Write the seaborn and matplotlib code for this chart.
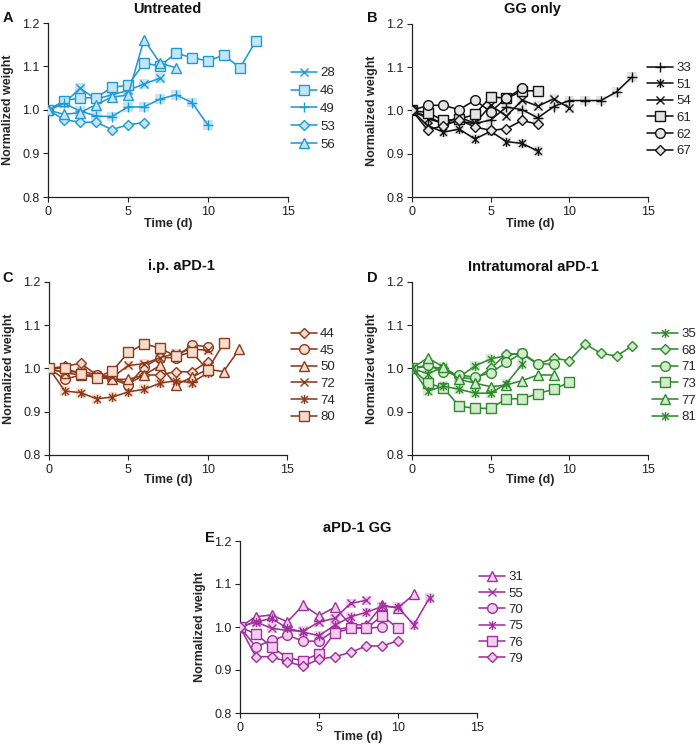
import matplotlib
matplotlib.use("Agg")
import matplotlib.pyplot as plt
import seaborn as sns
from matplotlib.path import Path

sns.set_theme(style="ticks")
plt.rcParams['font.family'] = ['Liberation Sans', 'DejaVu Sans']

# ---------------- data (normalized weight, day 0, 1, 2, ...) ----------------
# A: Untreated
a_ids = ["28", "46", "49", "53", "56"]
a_28 = [1.000, 1.015, 1.050, 1.025, 1.035, 1.045, 1.060, 1.073]
a_46 = [1.000, 1.021, 1.028, 1.028, 1.052, 1.057, 1.108, 1.101, 1.131, 1.120, 1.113, 1.126, 1.097, 1.159]
a_49 = [1.000, 1.015, 0.998, 0.986, 0.985, 1.007, 1.007, 1.025, 1.035, 1.017, 0.965]
a_53 = [1.000, 0.978, 0.972, 0.972, 0.955, 0.966, 0.971]
a_56 = [1.000, 0.990, 0.994, 1.012, 1.030, 1.034, 1.162, 1.108, 1.097]

# B: GG only
b_ids = ["33", "51", "54", "61", "62", "67"]
b_33 = [1.000, 0.985, 0.970, 0.975, 0.970, 0.978, 1.008, 1.002, 0.983, 1.009, 1.023, 1.023, 1.023, 1.043, 1.078]
b_51 = [1.000, 0.965, 0.950, 0.957, 0.934, 0.952, 0.928, 0.924, 0.906]
b_54 = [1.000, 0.981, 0.970, 0.985, 0.970, 1.012, 0.987, 1.024, 1.010, 1.027, 1.006]
b_61 = [1.000, 0.995, 0.977, 0.980, 0.991, 1.032, 1.028, 1.045, 1.046]
b_62 = [1.000, 1.012, 1.012, 1.002, 1.024, 0.997, 1.029, 1.051]
b_67 = [1.000, 0.955, 0.965, 0.978, 0.962, 0.954, 0.958, 0.977, 0.968]

# C: i.p. aPD-1
c_ids = ["44", "45", "50", "72", "74", "80"]
c_44 = [1.000, 1.005, 1.012, 0.985, 0.980, 0.965, 0.985, 0.985, 0.993, 0.992, 1.016]
c_45 = [1.000, 0.975, 0.985, 0.985, 0.975, 0.962, 1.004, 1.025, 1.025, 1.055, 1.050]
c_50 = [1.000, 0.990, 0.985, 0.980, 0.975, 0.975, 0.985, 1.007, 0.962, 0.980, 0.998, 0.993, 1.045]
c_72 = [1.000, 0.990, 0.995, 0.985, 0.980, 1.007, 1.011, 1.025, 1.035, 1.045, 1.042]
c_74 = [1.000, 0.948, 0.944, 0.930, 0.934, 0.946, 0.952, 0.966, 0.972, 0.967, 0.990]
c_80 = [1.000, 1.001, 0.987, 0.979, 0.995, 1.037, 1.057, 1.047, 1.028, 1.038, 0.997, 1.058]

# D: Intratumoral aPD-1
d_ids = ["35", "68", "71", "73", "77", "81"]
d_35 = [1.000, 0.988, 1.003, 0.980, 1.006, 1.022, 1.030, 1.036]
d_68 = [1.000, 1.005, 1.000, 0.980, 0.975, 1.000, 1.034, 1.033, 1.010, 1.024, 1.018, 1.057, 1.035, 1.029, 1.052]
d_71 = [1.000, 1.008, 0.992, 0.985, 0.980, 0.990, 1.014, 1.036, 1.011, 1.010]
d_73 = [1.000, 0.966, 0.955, 0.913, 0.908, 0.908, 0.930, 0.930, 0.942, 0.952, 0.968]
d_77 = [1.000, 1.025, 1.003, 0.975, 0.966, 0.958, 0.962, 0.972, 0.985, 0.985]
d_81 = [1.000, 0.948, 0.959, 0.952, 0.943, 0.943, 0.965, 1.010]

# E: aPD-1 GG
e_ids = ["31", "55", "70", "75", "76", "79"]
e_31 = [1.000, 1.024, 1.028, 1.012, 1.051, 1.026, 1.046, 1.005, 1.005, 1.051, 1.044, 1.076]
e_55 = [1.000, 1.012, 0.997, 0.992, 0.990, 1.012, 1.020, 1.055, 1.062]
e_70 = [1.000, 0.954, 0.969, 0.981, 0.967, 0.967, 0.993, 1.000, 0.997, 1.000]
e_75 = [1.000, 1.012, 1.020, 0.997, 0.988, 0.980, 1.004, 1.024, 1.034, 1.048, 1.046, 1.005, 1.068]
e_76 = [1.000, 0.984, 0.954, 0.928, 0.922, 0.938, 0.986, 0.997, 0.997, 1.026, 0.997]
e_79 = [1.000, 0.931, 0.931, 0.919, 0.909, 0.925, 0.931, 0.941, 0.956, 0.956, 0.968]

titles = ["Untreated", "GG only", "i.p. aPD-1", "Intratumoral aPD-1", "aPD-1 GG"]
panel_letters = ["A", "B", "C", "D", "E"]
x_ticks = [0, 5, 10, 15]
y_ticks = [0.8, 0.9, 1.0, 1.1, 1.2]
x_label = "Time (d)"
y_label = "Normalized weight"

# ---------------- style ----------------
AST = Path([(0, -1), (0, 1), (-0.75, -0.75), (0.75, 0.75), (-0.75, 0.75), (0.75, -0.75)],
           [Path.MOVETO, Path.LINETO, Path.MOVETO, Path.LINETO, Path.MOVETO, Path.LINETO])
MSIZE = {"s": 7.0, "o": 7.0, "^": 7.2, "D": 5.0, "x": 6.2, "+": 7.2, AST: 6.6}

panels = [
    dict(series=[a_28, a_46, a_49, a_53, a_56], ids=a_ids, markers=["x", "s", "+", "D", "^"],
         line="#1f9ad6", face="#c3e6f6"),
    dict(series=[b_33, b_51, b_54, b_61, b_62, b_67], ids=b_ids, markers=["+", AST, "x", "s", "o", "D"],
         line="#111111", face="#e4e4e4"),
    dict(series=[c_44, c_45, c_50, c_72, c_74, c_80], ids=c_ids, markers=["D", "o", "^", "x", AST, "s"],
         line="#8c3a1c", face="#fadccd"),
    dict(series=[d_35, d_68, d_71, d_73, d_77, d_81], ids=d_ids, markers=[AST, "D", "o", "s", "^", AST],
         line="#2f8a2f", face="#d0ecca"),
    dict(series=[e_31, e_55, e_70, e_75, e_76, e_79], ids=e_ids, markers=["^", "x", "o", AST, "s", "D"],
         line="#a1309e", face="#f3cdef"),
]

W, H = 700, 749
# axes boxes in pixels: left, top, right, bottom
boxes = [(48, 23, 288, 197), (412, 24, 648, 197), (49, 282, 287, 455),
         (412, 282, 648, 455), (240, 541, 477, 713)]
title_pos = [(167, 9), (532, 9), (181, 266), (533, 267), (357, 528)]
letter_pos = [(8, 18), (372, 18), (8, 278), (372, 278), (210, 538)]
legend_pos = [(291, 67), (647, 62), (291, 328), (652, 328), (479, 571)]
legend_spacing = [0.43, 0.33, 0.33, 0.33, 0.31]
xlabel_gap = [21, 21, 19, 19, 18]

fig = plt.figure(figsize=(W / 100, H / 100), dpi=100)

for i, p in enumerate(panels):
    l, t, r, b = boxes[i]
    ax = fig.add_axes([l / W, 1 - b / H, (r - l) / W, (b - t) / H])
    for vals, name, m in zip(p["series"], p["ids"], p["markers"]):
        days = list(range(len(vals)))
        if m in ("x", "+") or m is AST:
            sns.scatterplot(x=days, y=vals, ax=ax, marker="s", s=48, color=p["face"],
                            edgecolor="none", linewidth=0, legend=False, zorder=2)
        sns.lineplot(x=days, y=vals, ax=ax, color=p["line"], lw=1.15, marker=m,
                     markersize=MSIZE[m], markerfacecolor=p["face"], markeredgecolor=p["line"],
                     markeredgewidth=1.0, label=name, zorder=3)
    ax.set_xlim(0, 15)
    ax.set_ylim(0.8, 1.2)
    ax.set_xticks(x_ticks)
    ax.set_yticks(y_ticks)
    ax.set_yticklabels([f"{v:.1f}" for v in y_ticks])
    ax.tick_params(axis="both", labelsize=9, length=3.5, width=0.8, color="#222222",
                   labelcolor="#222222", pad=2.5)
    ax.tick_params(axis="x", pad=3)
    for s in ("left", "bottom"):
        ax.spines[s].set_color("#222222")
        ax.spines[s].set_linewidth(0.9)
    sns.despine(ax=ax)
    ax.set_xlabel(x_label, fontsize=9, fontweight="bold")
    ax.set_ylabel(y_label, fontsize=9, fontweight="bold")
    ax.xaxis.set_label_coords(0.5, -xlabel_gap[i] / (b - t))
    ax.yaxis.set_label_coords(-34 / (r - l), 0.5)
    lx, ly = legend_pos[i]
    ax.legend(loc="upper left", bbox_to_anchor=(lx / W, 1 - ly / H), bbox_transform=fig.transFigure,
              frameon=False, fontsize=9.5, handlelength=2.0, handletextpad=0.2,
              labelspacing=legend_spacing[i], borderpad=0, borderaxespad=0)
    tx, ty = title_pos[i]
    fig.text(tx / W, 1 - ty / H, titles[i], ha="center", va="center", fontsize=10.5,
             fontweight="bold", color="#111111")
    px, py = letter_pos[i]
    fig.text(px / W, 1 - py / H, panel_letters[i], ha="center", va="center", fontsize=10.5,
             fontweight="bold", color="#111111")

fig.savefig("out.png", dpi=100)
